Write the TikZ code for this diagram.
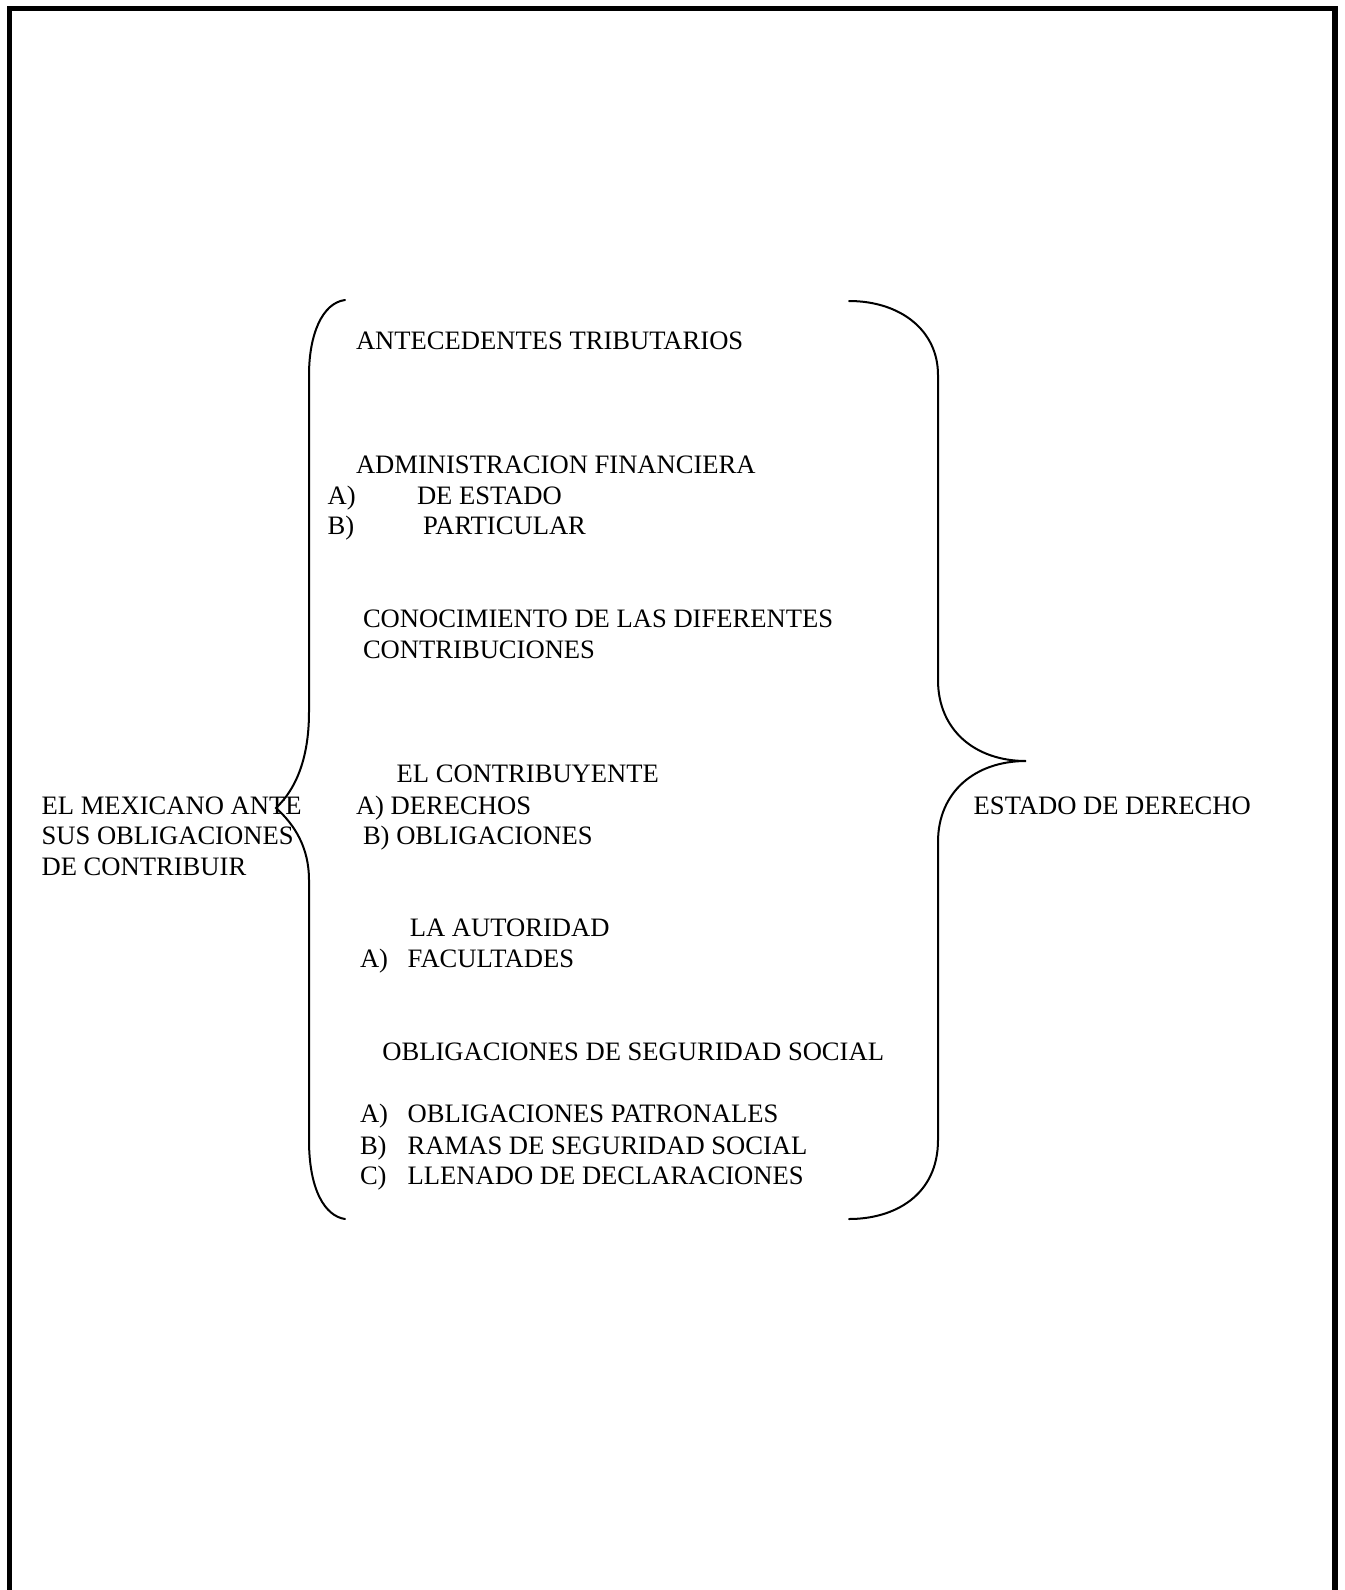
\documentclass[tikz,border=0pt]{standalone}
\usepackage{fontspec}
\setmainfont{Liberation Serif}
\begin{document}
\begin{tikzpicture}[x=0.5pt,y=-0.5pt,
  txt/.style={anchor=base west,inner sep=0pt,outer sep=0pt,font=\fontsize{13.3}{15.2}\selectfont},
  brace/.style={line width=1pt,line cap=round},
  frame/.style={line width=2.6pt}]
\useasboundingbox (0,0) rectangle (1344,1590);
% frame (open at the bottom)
\draw[frame] (9.5,1600) -- (9.5,8.5) -- (1335,8.5) -- (1335,1600);
% left brace
\draw[brace] (345,300) .. controls (322,303) and (309,335) .. (309,375)
  -- (309,712) .. controls (309,760) and (295,790) .. (276,808)
  .. controls (295,825) and (309,848) .. (309,880)
  -- (309,1140) .. controls (309,1190) and (325,1216) .. (345,1219);
% right brace
\draw[brace] (849,301) .. controls (900,301) and (938,330) .. (938,375)
  -- (938,680) .. controls (938,730) and (975,761) .. (1026,761)
  .. controls (975,761) and (938,792) .. (938,842)
  -- (938,1140) .. controls (938,1195) and (895,1219) .. (849,1219);
% left label
\node[txt] (m1) at (41.6,814) {EL MEXICANO ANTE};
\node[txt] (m2) at (41.6,844.6) {SUS OBLIGACIONES};
\node[txt] (m3) at (41.6,875) {DE CONTRIBUIR};
% right label
\node[txt] (ed) at (973.7,814) {ESTADO DE DERECHO};
% contents
\node[txt] (t1) at (356,349.6) {ANTECEDENTES TRIBUTARIOS};
\node[txt] (t2) at (356,473) {ADMINISTRACION FINANCIERA};
\node[txt] (t2a) at (327.6,504) {A)};
\node[txt] (t2at) at (417,504) {DE ESTADO};
\node[txt] (t2b) at (327.6,534) {B)};
\node[txt] (t2bt) at (423,534) {PARTICULAR};
\node[txt] (t3) at (363,627.5) {CONOCIMIENTO DE LAS DIFERENTES};
\node[txt] (t3b) at (363,658) {CONTRIBUCIONES};
\node[txt] (t4) at (396.6,782.8) {EL CONTRIBUYENTE};
\node[txt] (t4a) at (356,814) {A) DERECHOS};
\node[txt] (t4b) at (363,844.6) {B) OBLIGACIONES};
\node[txt] (t5) at (409.8,936) {LA AUTORIDAD};
\node[txt] (t5a) at (360,967) {A)};
\node[txt] (t5at) at (407.7,967) {FACULTADES};
\node[txt] (t6) at (382.4,1060.6) {OBLIGACIONES DE SEGURIDAD SOCIAL};
\node[txt] (t6a) at (360,1122.5) {A)};
\node[txt] (t6at) at (407.7,1122.5) {OBLIGACIONES PATRONALES};
\node[txt] (t6b) at (360,1154) {B)};
\node[txt] (t6bt) at (407.7,1154) {RAMAS DE SEGURIDAD SOCIAL};
\node[txt] (t6c) at (360,1184.4) {C)};
\node[txt] (t6ct) at (407.7,1184.4) {LLENADO DE DECLARACIONES};
\end{tikzpicture}
\end{document}
